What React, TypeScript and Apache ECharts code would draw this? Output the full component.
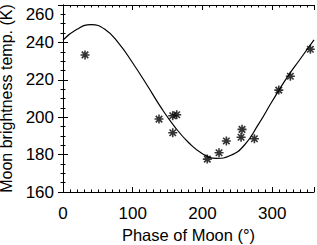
import React, { useEffect, useRef } from "react";
import * as echarts from "echarts";

const obsPhase = [31.6, 137.7, 157.4, 163.1, 157.4, 207.0, 223.8, 234.3, 256.8, 255.4, 274.5, 309.5, 326.1, 354.8];
const obsTemp = [233.3, 199.0, 200.8, 201.3, 191.7, 177.6, 181.0, 187.3, 193.5, 189.3, 188.5, 214.5, 221.9, 236.3];

const modelPhase = [0, 20, 40, 60, 80, 100, 120, 140, 160, 180, 200, 220, 240, 260, 280, 300, 320, 340, 360];
const modelTemp = [241.3, 247, 249.5, 247, 239.5, 229, 217.5, 205.5, 195, 186.5, 180.5, 178, 179.5, 185, 196, 208.5, 220.5, 231, 241.3];

const FONT = "Liberation Sans";
const STAR = "path://M0,-5L0,5M-5,0L5,0M-3.6,-3.6L3.6,3.6M-3.6,3.6L3.6,-3.6";
const Y_MAX = 260;

export default function App() {
  const ref = useRef<HTMLDivElement>(null);
  useEffect(() => {
    document.body.style.margin = "0";
    const chart = echarts.init(ref.current!, null, { renderer: "svg" });
    const axisLine = { show: true, lineStyle: { color: "#000", width: 1 } };
    const tick = { show: true, inside: true, length: 5, lineStyle: { color: "#000", width: 1 } };
    chart.setOption({
      animation: false,
      backgroundColor: "#fff",
      grid: { left: 63, right: 3, top: 5, bottom: 53, outerBoundsMode: "none", containLabel: false },
      xAxis: [
        {
          type: "value", min: 0, max: 360, interval: 100,
          name: "Phase of Moon (°)", nameLocation: "middle", nameGap: 34,
          nameTextStyle: { fontFamily: FONT, fontSize: 16.5, color: "#000" },
          axisLine, axisTick: tick,
          minorTick: { show: true, splitNumber: 10, length: 2.5, lineStyle: { color: "#000", width: 1 } },
          axisLabel: { fontFamily: FONT, fontSize: 17, color: "#000", margin: 13, showMaxLabel: false },
          splitLine: { show: false },
        },
        {
          type: "value", min: 0, max: 360, interval: 100, position: "top",
          axisLine, axisTick: tick,
          minorTick: { show: true, splitNumber: 10, length: 2.5, lineStyle: { color: "#000", width: 1 } },
          axisLabel: { show: false }, splitLine: { show: false },
        },
      ],
      yAxis: [
        {
          type: "value", min: 160, max: Y_MAX, interval: 20,
          name: "Moon brightness temp. (K)", nameLocation: "middle", nameGap: 41,
          nameTextStyle: { fontFamily: FONT, fontSize: 16, color: "#000" },
          axisLine, axisTick: tick,
          minorTick: { show: true, splitNumber: 4, length: 2.5, lineStyle: { color: "#000", width: 1 } },
          axisLabel: {
            fontFamily: FONT, fontSize: 17, color: "#000", margin: 9,
            formatter: (v: number) => (v === Y_MAX ? "{top|" + v + "}" : String(v)),
            rich: { top: { fontFamily: FONT, fontSize: 17, color: "#000", padding: [18, 0, 0, 0] } },
          },
          splitLine: { show: false },
        },
        {
          type: "value", min: 160, max: Y_MAX, interval: 20, position: "right",
          axisLine, axisTick: tick,
          minorTick: { show: true, splitNumber: 4, length: 2.5, lineStyle: { color: "#000", width: 1 } },
          axisLabel: { show: false }, splitLine: { show: false },
        },
      ],
      series: [
        {
          type: "line",
          data: modelPhase.map((p, i) => [p, modelTemp[i]]),
          smooth: 0.5,
          showSymbol: false,
          lineStyle: { color: "#000", width: 1.2 },
          silent: true,
        },
        {
          type: "scatter",
          data: obsPhase.map((p, i) => [p, obsTemp[i]]),
          symbol: STAR,
          symbolSize: 9,
          itemStyle: { color: "none", borderColor: "#000", borderWidth: 1.6 },
        },
      ],
    });
    return () => chart.dispose();
  }, []);
  return <div ref={ref} style={{ width: 317, height: 245 }} />;
}
